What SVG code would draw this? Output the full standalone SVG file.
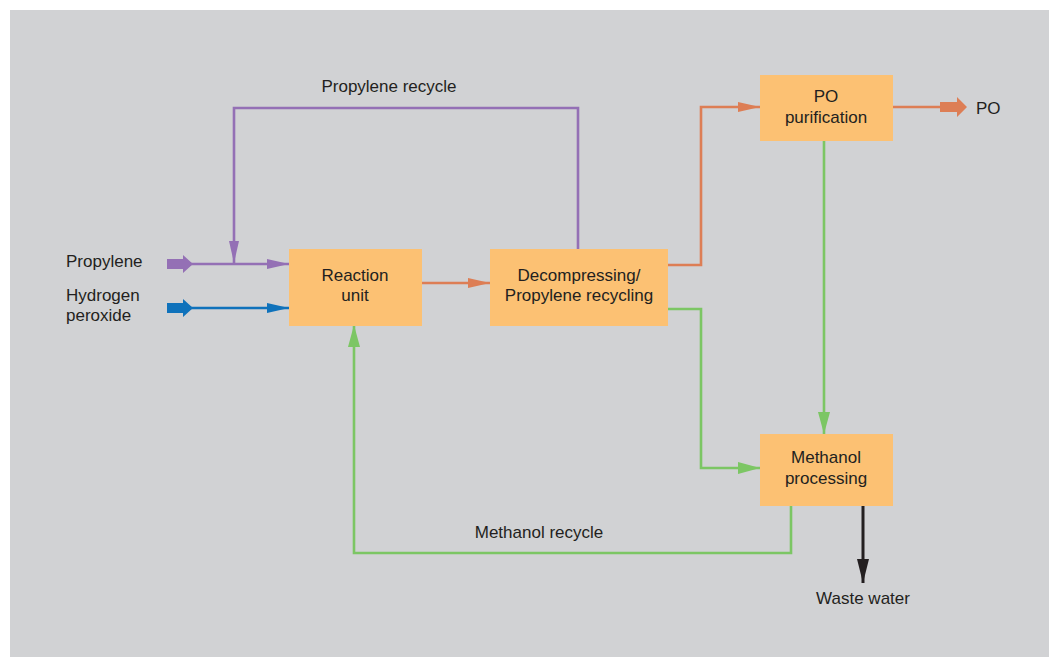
<svg xmlns="http://www.w3.org/2000/svg" width="1049" height="657" viewBox="0 0 1049 657">
  <defs>
    <style>
      .bg { fill: #d1d2d4; }
      .box { fill: #fcc173; }
      .lbl { font-family: "Liberation Sans", Arial, sans-serif; font-size: 17px; fill: #231f20; }
      .mid { text-anchor: middle; }
      .ln { fill: none; stroke-width: 2.6; }
      .purple { stroke: #9470b5; }
      .orange { stroke: #dd7e55; }
      .green { stroke: #7cc664; }
      .blue { stroke: #0f72bb; }
      .black { stroke: #231f20; stroke-width: 3; }
    </style>
    <marker id="ahPurple" markerWidth="22" markerHeight="10" refX="22" refY="5" orient="auto" markerUnits="userSpaceOnUse">
      <path d="M0,0 L22,5 L0,10 Z" fill="#9470b5"/>
    </marker>
    <marker id="ahOrange" markerWidth="22" markerHeight="10" refX="22" refY="5" orient="auto" markerUnits="userSpaceOnUse">
      <path d="M0,0 L22,5 L0,10 Z" fill="#dd7e55"/>
    </marker>
    <marker id="ahGreen" markerWidth="22" markerHeight="12" refX="22" refY="6" orient="auto" markerUnits="userSpaceOnUse">
      <path d="M0,0 L22,6 L0,12 Z" fill="#7cc664"/>
    </marker>
    <marker id="ahBlue" markerWidth="22" markerHeight="10" refX="22" refY="5" orient="auto" markerUnits="userSpaceOnUse">
      <path d="M0,0 L22,5 L0,10 Z" fill="#0f72bb"/>
    </marker>
    <marker id="ahBlack" markerWidth="24" markerHeight="12" refX="24" refY="6" orient="auto" markerUnits="userSpaceOnUse">
      <path d="M0,0 L24,6 L0,12 Z" fill="#231f20"/>
    </marker>
  </defs>

  <rect x="0" y="0" width="1049" height="657" fill="#ffffff"/>
  <rect class="bg" x="10" y="10" width="1039" height="647"/>

  <!-- connectors -->
  <g id="connectors">
    <!-- feed: propylene -->
    <path d="M167,259 H183 V255 L193,264 L183,273 V269 H167 Z" fill="#9470b5"/>
    <path class="ln purple" d="M190,264 H289" marker-end="url(#ahPurple)"/>
    <!-- feed: hydrogen peroxide -->
    <path d="M167,303 H183 V299 L193,308 L183,317 V313 H167 Z" fill="#0f72bb"/>
    <path class="ln blue" d="M190,308 H289" marker-end="url(#ahBlue)"/>
    <!-- propylene recycle loop -->
    <path class="ln purple" d="M578,249 V108 H234 V263" marker-end="url(#ahPurple)"/>
    <!-- reaction -> decompressing -->
    <path class="ln orange" d="M421,283 H490" marker-end="url(#ahOrange)"/>
    <!-- decompressing -> PO purification -->
    <path class="ln orange" d="M667,265 H701 V107 H760" marker-end="url(#ahOrange)"/>
    <!-- PO product -->
    <path class="ln orange" d="M892,107 H941"/>
    <path d="M940,102 H957 V97 L967,107 L957,117 V112 H940 Z" fill="#dd7e55"/>
    <!-- PO purification -> methanol processing -->
    <path class="ln green" d="M824,140 V434" marker-end="url(#ahGreen)"/>
    <!-- decompressing -> methanol processing -->
    <path class="ln green" d="M667,309 H701 V468 H760" marker-end="url(#ahGreen)"/>
    <!-- methanol recycle loop -->
    <path class="ln green" d="M791,505 V553 H354 V325" marker-end="url(#ahGreen)"/>
    <!-- waste water -->
    <path class="ln black" d="M863,506 V583" marker-end="url(#ahBlack)"/>
  </g>

  <!-- nodes -->
  <g id="reaction-unit">
    <rect class="box" x="289" y="249" width="133" height="77"/>
    <text class="lbl mid" x="355" y="281">Reaction</text>
    <text class="lbl mid" x="355" y="301">unit</text>
  </g>
  <g id="decompressing">
    <rect class="box" x="490" y="249" width="178" height="77"/>
    <text class="lbl mid" x="579" y="281">Decompressing/</text>
    <text class="lbl mid" x="579" y="301">Propylene recycling</text>
  </g>
  <g id="po-purification">
    <rect class="box" x="760" y="75" width="133" height="66"/>
    <text class="lbl mid" x="826" y="102">PO</text>
    <text class="lbl mid" x="826" y="123">purification</text>
  </g>
  <g id="methanol-processing">
    <rect class="box" x="760" y="434" width="133" height="72"/>
    <text class="lbl mid" x="826" y="463">Methanol</text>
    <text class="lbl mid" x="826" y="484">processing</text>
  </g>

  <!-- stream labels -->
  <g id="labels">
    <text class="lbl mid" x="389" y="92">Propylene recycle</text>
    <text class="lbl mid" x="539" y="538">Methanol recycle</text>
    <text class="lbl" x="66" y="267">Propylene</text>
    <text class="lbl" x="66" y="301">Hydrogen</text>
    <text class="lbl" x="66" y="321">peroxide</text>
    <text class="lbl" x="976" y="114">PO</text>
    <text class="lbl mid" x="863" y="604">Waste water</text>
  </g>
</svg>
